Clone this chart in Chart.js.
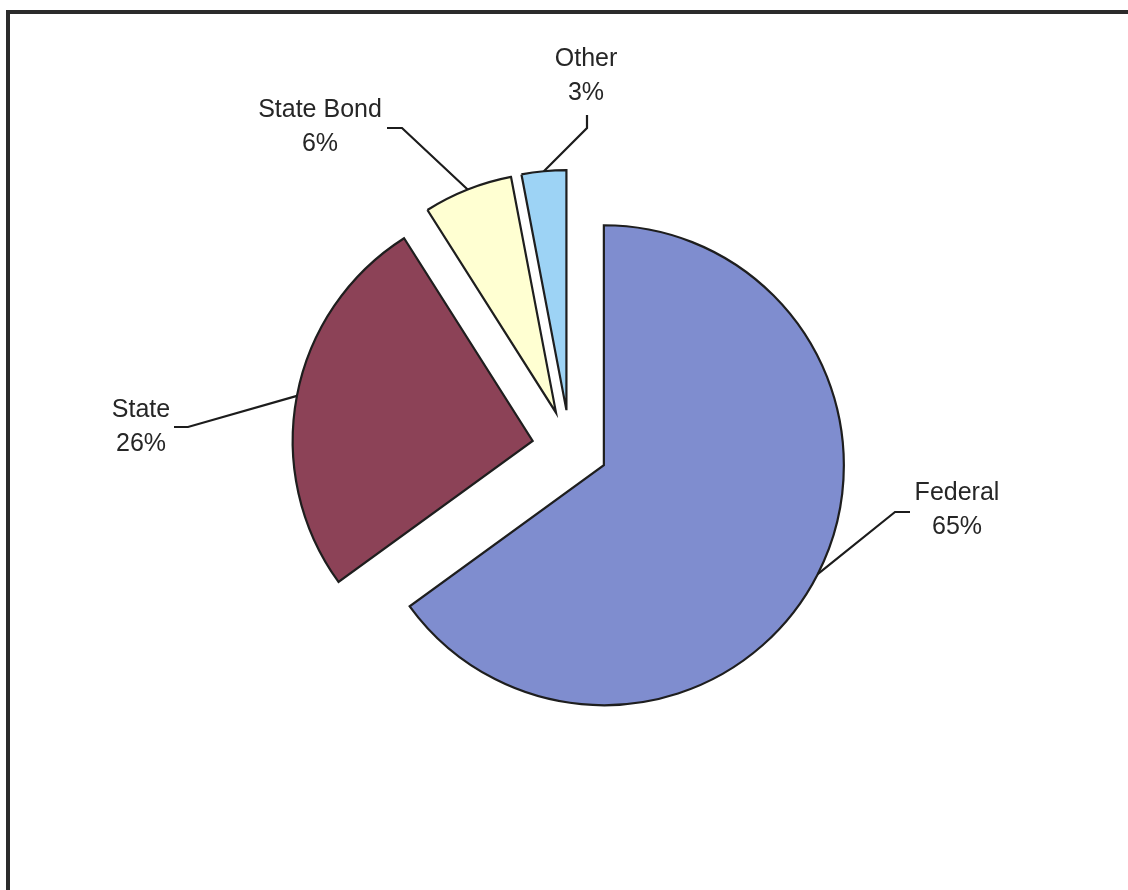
<!DOCTYPE html>
<html>
<head>
<meta charset="utf-8">
<title>Funding sources</title>
<script src="https://cdn.jsdelivr.net/npm/chart.js@4.4.1/dist/chart.umd.min.js"></script>
<style>
    html, body { margin: 0; padding: 0; background: #fff; overflow: hidden; }
    #wrap { position: relative; width: 1128px; height: 890px; overflow: hidden; }
    #frame {
        position: absolute; left: 6px; top: 10px;
        width: 1200px; height: 1000px;
        border: 4px solid #2b2b2b;
    }
    #myChart { position: absolute; left: 0; top: 0; }
</style>
</head>
<body>
<div id="wrap">
    <div id="frame"></div>
    <canvas id="myChart" width="1128" height="890"></canvas>
</div>
<script>
/* global Chart */

const CATEGORIES = ['Federal', 'State', 'State Bond', 'Other'];
const VALUES = [65, 26, 6, 3];
const COLORS = ['#7f8dcf', '#8c4257', '#ffffd2', '#9dd3f5'];

const EXPLODE = 38; // every slice pulled out from the centre (px)

// where each label sits, and the bend of its leader line
const LABEL_LAYOUT = [
    { x: 957, y: 500, elbow: [895, 512], end: [910, 512] },
    { x: 141, y: 417, elbow: [188, 427], end: [174, 427] },
    { x: 320, y: 117, elbow: [402, 128], end: [387, 128] },
    { x: 586, y: 66,  elbow: [587, 128], end: [587, 115] },
];

const midAngle = arc => (arc.startAngle + arc.endAngle) / 2;

// draw slices translated along their bisector, like an exploded Excel pie
const explodePlugin = {
    id: 'explode',
    beforeDatasetsDraw(chart) {
        const ctx = chart.ctx;
        chart.getDatasetMeta(0).data.forEach(arc => {
            const a = midAngle(arc);
            ctx.save();
            ctx.translate(Math.cos(a) * EXPLODE, Math.sin(a) * EXPLODE);
            arc.draw(ctx);
            ctx.restore();
        });
        return false;
    }
};

const labelPlugin = {
    id: 'leaderLabels',
    afterDraw(chart) {
        const ctx = chart.ctx;
        const total = VALUES.reduce((s, v) => s + v, 0);
        chart.getDatasetMeta(0).data.forEach((arc, i) => {
            const a = midAngle(arc);
            const r = EXPLODE + arc.outerRadius;
            const ax = arc.x + Math.cos(a) * r;
            const ay = arc.y + Math.sin(a) * r;
            const lay = LABEL_LAYOUT[i];

            ctx.save();
            ctx.strokeStyle = '#1c1c1c';
            ctx.lineWidth = 2.2;
            ctx.beginPath();
            ctx.moveTo(ax, ay);
            ctx.lineTo(lay.elbow[0], lay.elbow[1]);
            ctx.lineTo(lay.end[0], lay.end[1]);
            ctx.stroke();

            ctx.fillStyle = '#262626';
            ctx.font = '25px "Liberation Sans", Arial, sans-serif';
            ctx.textAlign = 'center';
            ctx.textBaseline = 'alphabetic';
            ctx.fillText(CATEGORIES[i], lay.x, lay.y);
            ctx.fillText(Math.round(VALUES[i] / total * 100) + '%', lay.x, lay.y + 34);
            ctx.restore();
        });
    }
};

new Chart(document.getElementById('myChart'), {
    type: 'pie',
    data: {
        labels: CATEGORIES,
        datasets: [{
            data: VALUES,
            backgroundColor: COLORS,
            borderColor: '#1e1e1e',
            borderWidth: 2.2,
            borderJoinStyle: 'miter',
        }]
    },
    options: {
        responsive: false,
        animation: false,
        events: [],
        radius: 240,
        layout: { padding: { left: 12, top: 6, right: 0, bottom: 0 } },
        plugins: {
            legend: { display: false },
            tooltip: { enabled: false },
        }
    },
    plugins: [explodePlugin, labelPlugin]
});
</script>
</body>
</html>
